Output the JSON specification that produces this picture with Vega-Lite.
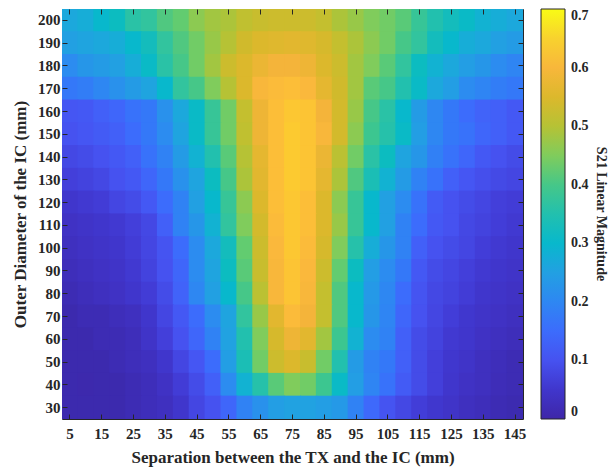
{
"$schema": "https://vega.github.io/schema/vega-lite/v6.json",
"width": 461, "height": 410,
"autosize": "none",
"padding": {"left": 62, "top": 9, "right": 86, "bottom": 54},
"background": "white",
"config": {"view": {"stroke": "#262626", "strokeWidth": 1}, "font": "Liberation Serif"},
"data": {"values": [
{"x":5,"y":200,"v":0.27},{"x":10,"y":200,"v":0.28},{"x":15,"y":200,"v":0.30},{"x":20,"y":200,"v":0.32},{"x":25,"y":200,"v":0.36},{"x":30,"y":200,"v":0.37},{"x":35,"y":200,"v":0.41},{"x":40,"y":200,"v":0.43},{"x":45,"y":200,"v":0.46},{"x":50,"y":200,"v":0.48},{"x":55,"y":200,"v":0.49},{"x":60,"y":200,"v":0.51},{"x":65,"y":200,"v":0.52},{"x":70,"y":200,"v":0.525},{"x":75,"y":200,"v":0.525},{"x":80,"y":200,"v":0.525},{"x":85,"y":200,"v":0.515},{"x":90,"y":200,"v":0.49},{"x":95,"y":200,"v":0.47},{"x":100,"y":200,"v":0.45},{"x":105,"y":200,"v":0.44},{"x":110,"y":200,"v":0.42},{"x":115,"y":200,"v":0.38},{"x":120,"y":200,"v":0.35},{"x":125,"y":200,"v":0.33},{"x":130,"y":200,"v":0.31},{"x":135,"y":200,"v":0.29},{"x":140,"y":200,"v":0.28},{"x":145,"y":200,"v":0.27},
{"x":5,"y":190,"v":0.25},{"x":10,"y":190,"v":0.26},{"x":15,"y":190,"v":0.27},{"x":20,"y":190,"v":0.28},{"x":25,"y":190,"v":0.30},{"x":30,"y":190,"v":0.33},{"x":35,"y":190,"v":0.37},{"x":40,"y":190,"v":0.41},{"x":45,"y":190,"v":0.44},{"x":50,"y":190,"v":0.47},{"x":55,"y":190,"v":0.50},{"x":60,"y":190,"v":0.53},{"x":65,"y":190,"v":0.55},{"x":70,"y":190,"v":0.555},{"x":75,"y":190,"v":0.56},{"x":80,"y":190,"v":0.555},{"x":85,"y":190,"v":0.54},{"x":90,"y":190,"v":0.515},{"x":95,"y":190,"v":0.49},{"x":100,"y":190,"v":0.46},{"x":105,"y":190,"v":0.44},{"x":110,"y":190,"v":0.40},{"x":115,"y":190,"v":0.37},{"x":120,"y":190,"v":0.33},{"x":125,"y":190,"v":0.30},{"x":130,"y":190,"v":0.28},{"x":135,"y":190,"v":0.27},{"x":140,"y":190,"v":0.25},{"x":145,"y":190,"v":0.24},
{"x":5,"y":180,"v":0.21},{"x":10,"y":180,"v":0.23},{"x":15,"y":180,"v":0.24},{"x":20,"y":180,"v":0.25},{"x":25,"y":180,"v":0.28},{"x":30,"y":180,"v":0.31},{"x":35,"y":180,"v":0.36},{"x":40,"y":180,"v":0.40},{"x":45,"y":180,"v":0.44},{"x":50,"y":180,"v":0.48},{"x":55,"y":180,"v":0.525},{"x":60,"y":180,"v":0.55},{"x":65,"y":180,"v":0.575},{"x":70,"y":180,"v":0.59},{"x":75,"y":180,"v":0.59},{"x":80,"y":180,"v":0.58},{"x":85,"y":180,"v":0.55},{"x":90,"y":180,"v":0.525},{"x":95,"y":180,"v":0.48},{"x":100,"y":180,"v":0.45},{"x":105,"y":180,"v":0.42},{"x":110,"y":180,"v":0.37},{"x":115,"y":180,"v":0.32},{"x":120,"y":180,"v":0.29},{"x":125,"y":180,"v":0.27},{"x":130,"y":180,"v":0.245},{"x":135,"y":180,"v":0.23},{"x":140,"y":180,"v":0.21},{"x":145,"y":180,"v":0.195},
{"x":5,"y":170,"v":0.17},{"x":10,"y":170,"v":0.18},{"x":15,"y":170,"v":0.20},{"x":20,"y":170,"v":0.22},{"x":25,"y":170,"v":0.24},{"x":30,"y":170,"v":0.26},{"x":35,"y":170,"v":0.30},{"x":40,"y":170,"v":0.37},{"x":45,"y":170,"v":0.40},{"x":50,"y":170,"v":0.45},{"x":55,"y":170,"v":0.50},{"x":60,"y":170,"v":0.55},{"x":65,"y":170,"v":0.60},{"x":70,"y":170,"v":0.61},{"x":75,"y":170,"v":0.615},{"x":80,"y":170,"v":0.605},{"x":85,"y":170,"v":0.565},{"x":90,"y":170,"v":0.53},{"x":95,"y":170,"v":0.48},{"x":100,"y":170,"v":0.42},{"x":105,"y":170,"v":0.40},{"x":110,"y":170,"v":0.35},{"x":115,"y":170,"v":0.31},{"x":120,"y":170,"v":0.27},{"x":125,"y":170,"v":0.245},{"x":130,"y":170,"v":0.21},{"x":135,"y":170,"v":0.195},{"x":140,"y":170,"v":0.18},{"x":145,"y":170,"v":0.17},
{"x":5,"y":160,"v":0.11},{"x":10,"y":160,"v":0.115},{"x":15,"y":160,"v":0.13},{"x":20,"y":160,"v":0.14},{"x":25,"y":160,"v":0.16},{"x":30,"y":160,"v":0.17},{"x":35,"y":160,"v":0.22},{"x":40,"y":160,"v":0.27},{"x":45,"y":160,"v":0.31},{"x":50,"y":160,"v":0.38},{"x":55,"y":160,"v":0.44},{"x":60,"y":160,"v":0.515},{"x":65,"y":160,"v":0.58},{"x":70,"y":160,"v":0.615},{"x":75,"y":160,"v":0.63},{"x":80,"y":160,"v":0.625},{"x":85,"y":160,"v":0.59},{"x":90,"y":160,"v":0.535},{"x":95,"y":160,"v":0.47},{"x":100,"y":160,"v":0.40},{"x":105,"y":160,"v":0.36},{"x":110,"y":160,"v":0.30},{"x":115,"y":160,"v":0.24},{"x":120,"y":160,"v":0.20},{"x":125,"y":160,"v":0.17},{"x":130,"y":160,"v":0.15},{"x":135,"y":160,"v":0.135},{"x":140,"y":160,"v":0.13},{"x":145,"y":160,"v":0.115},
{"x":5,"y":150,"v":0.10},{"x":10,"y":150,"v":0.11},{"x":15,"y":150,"v":0.12},{"x":20,"y":150,"v":0.13},{"x":25,"y":150,"v":0.15},{"x":30,"y":150,"v":0.17},{"x":35,"y":150,"v":0.21},{"x":40,"y":150,"v":0.26},{"x":45,"y":150,"v":0.31},{"x":50,"y":150,"v":0.38},{"x":55,"y":150,"v":0.44},{"x":60,"y":150,"v":0.51},{"x":65,"y":150,"v":0.58},{"x":70,"y":150,"v":0.615},{"x":75,"y":150,"v":0.635},{"x":80,"y":150,"v":0.625},{"x":85,"y":150,"v":0.60},{"x":90,"y":150,"v":0.535},{"x":95,"y":150,"v":0.46},{"x":100,"y":150,"v":0.39},{"x":105,"y":150,"v":0.355},{"x":110,"y":150,"v":0.31},{"x":115,"y":150,"v":0.245},{"x":120,"y":150,"v":0.20},{"x":125,"y":150,"v":0.17},{"x":130,"y":150,"v":0.16},{"x":135,"y":150,"v":0.14},{"x":140,"y":150,"v":0.13},{"x":145,"y":150,"v":0.115},
{"x":5,"y":140,"v":0.08},{"x":10,"y":140,"v":0.09},{"x":15,"y":140,"v":0.10},{"x":20,"y":140,"v":0.115},{"x":25,"y":140,"v":0.13},{"x":30,"y":140,"v":0.16},{"x":35,"y":140,"v":0.19},{"x":40,"y":140,"v":0.24},{"x":45,"y":140,"v":0.29},{"x":50,"y":140,"v":0.35},{"x":55,"y":140,"v":0.42},{"x":60,"y":140,"v":0.50},{"x":65,"y":140,"v":0.565},{"x":70,"y":140,"v":0.615},{"x":75,"y":140,"v":0.635},{"x":80,"y":140,"v":0.625},{"x":85,"y":140,"v":0.575},{"x":90,"y":140,"v":0.505},{"x":95,"y":140,"v":0.44},{"x":100,"y":140,"v":0.36},{"x":105,"y":140,"v":0.32},{"x":110,"y":140,"v":0.26},{"x":115,"y":140,"v":0.23},{"x":120,"y":140,"v":0.185},{"x":125,"y":140,"v":0.16},{"x":130,"y":140,"v":0.14},{"x":135,"y":140,"v":0.115},{"x":140,"y":140,"v":0.10},{"x":145,"y":140,"v":0.09},
{"x":5,"y":130,"v":0.065},{"x":10,"y":130,"v":0.07},{"x":15,"y":130,"v":0.08},{"x":20,"y":130,"v":0.10},{"x":25,"y":130,"v":0.115},{"x":30,"y":130,"v":0.14},{"x":35,"y":130,"v":0.17},{"x":40,"y":130,"v":0.22},{"x":45,"y":130,"v":0.26},{"x":50,"y":130,"v":0.32},{"x":55,"y":130,"v":0.40},{"x":60,"y":130,"v":0.49},{"x":65,"y":130,"v":0.56},{"x":70,"y":130,"v":0.615},{"x":75,"y":130,"v":0.635},{"x":80,"y":130,"v":0.625},{"x":85,"y":130,"v":0.565},{"x":90,"y":130,"v":0.49},{"x":95,"y":130,"v":0.41},{"x":100,"y":130,"v":0.34},{"x":105,"y":130,"v":0.29},{"x":110,"y":130,"v":0.24},{"x":115,"y":130,"v":0.19},{"x":120,"y":130,"v":0.16},{"x":125,"y":130,"v":0.13},{"x":130,"y":130,"v":0.11},{"x":135,"y":130,"v":0.095},{"x":140,"y":130,"v":0.085},{"x":145,"y":130,"v":0.075},
{"x":5,"y":120,"v":0.05},{"x":10,"y":120,"v":0.055},{"x":15,"y":120,"v":0.06},{"x":20,"y":120,"v":0.075},{"x":25,"y":120,"v":0.09},{"x":30,"y":120,"v":0.115},{"x":35,"y":120,"v":0.15},{"x":40,"y":120,"v":0.19},{"x":45,"y":120,"v":0.25},{"x":50,"y":120,"v":0.30},{"x":55,"y":120,"v":0.38},{"x":60,"y":120,"v":0.46},{"x":65,"y":120,"v":0.55},{"x":70,"y":120,"v":0.615},{"x":75,"y":120,"v":0.63},{"x":80,"y":120,"v":0.615},{"x":85,"y":120,"v":0.55},{"x":90,"y":120,"v":0.46},{"x":95,"y":120,"v":0.38},{"x":100,"y":120,"v":0.30},{"x":105,"y":120,"v":0.25},{"x":110,"y":120,"v":0.21},{"x":115,"y":120,"v":0.16},{"x":120,"y":120,"v":0.12},{"x":125,"y":120,"v":0.10},{"x":130,"y":120,"v":0.09},{"x":135,"y":120,"v":0.075},{"x":140,"y":120,"v":0.065},{"x":145,"y":120,"v":0.06},
{"x":5,"y":110,"v":0.04},{"x":10,"y":110,"v":0.045},{"x":15,"y":110,"v":0.05},{"x":20,"y":110,"v":0.055},{"x":25,"y":110,"v":0.065},{"x":30,"y":110,"v":0.08},{"x":35,"y":110,"v":0.13},{"x":40,"y":110,"v":0.19},{"x":45,"y":110,"v":0.23},{"x":50,"y":110,"v":0.29},{"x":55,"y":110,"v":0.37},{"x":60,"y":110,"v":0.45},{"x":65,"y":110,"v":0.535},{"x":70,"y":110,"v":0.61},{"x":75,"y":110,"v":0.63},{"x":80,"y":110,"v":0.615},{"x":85,"y":110,"v":0.55},{"x":90,"y":110,"v":0.47},{"x":95,"y":110,"v":0.38},{"x":100,"y":110,"v":0.30},{"x":105,"y":110,"v":0.25},{"x":110,"y":110,"v":0.19},{"x":115,"y":110,"v":0.15},{"x":120,"y":110,"v":0.115},{"x":125,"y":110,"v":0.10},{"x":130,"y":110,"v":0.08},{"x":135,"y":110,"v":0.07},{"x":140,"y":110,"v":0.062},{"x":145,"y":110,"v":0.055},
{"x":5,"y":100,"v":0.035},{"x":10,"y":100,"v":0.04},{"x":15,"y":100,"v":0.045},{"x":20,"y":100,"v":0.05},{"x":25,"y":100,"v":0.06},{"x":30,"y":100,"v":0.075},{"x":35,"y":100,"v":0.105},{"x":40,"y":100,"v":0.15},{"x":45,"y":100,"v":0.21},{"x":50,"y":100,"v":0.27},{"x":55,"y":100,"v":0.33},{"x":60,"y":100,"v":0.43},{"x":65,"y":100,"v":0.525},{"x":70,"y":100,"v":0.605},{"x":75,"y":100,"v":0.63},{"x":80,"y":100,"v":0.61},{"x":85,"y":100,"v":0.54},{"x":90,"y":100,"v":0.45},{"x":95,"y":100,"v":0.355},{"x":100,"y":100,"v":0.28},{"x":105,"y":100,"v":0.23},{"x":110,"y":100,"v":0.19},{"x":115,"y":100,"v":0.13},{"x":120,"y":100,"v":0.10},{"x":125,"y":100,"v":0.09},{"x":130,"y":100,"v":0.075},{"x":135,"y":100,"v":0.062},{"x":140,"y":100,"v":0.055},{"x":145,"y":100,"v":0.05},
{"x":5,"y":90,"v":0.03},{"x":10,"y":90,"v":0.035},{"x":15,"y":90,"v":0.04},{"x":20,"y":90,"v":0.045},{"x":25,"y":90,"v":0.055},{"x":30,"y":90,"v":0.07},{"x":35,"y":90,"v":0.10},{"x":40,"y":90,"v":0.14},{"x":45,"y":90,"v":0.21},{"x":50,"y":90,"v":0.26},{"x":55,"y":90,"v":0.32},{"x":60,"y":90,"v":0.42},{"x":65,"y":90,"v":0.52},{"x":70,"y":90,"v":0.60},{"x":75,"y":90,"v":0.625},{"x":80,"y":90,"v":0.605},{"x":85,"y":90,"v":0.525},{"x":90,"y":90,"v":0.43},{"x":95,"y":90,"v":0.32},{"x":100,"y":90,"v":0.245},{"x":105,"y":90,"v":0.21},{"x":110,"y":90,"v":0.17},{"x":115,"y":90,"v":0.115},{"x":120,"y":90,"v":0.09},{"x":125,"y":90,"v":0.075},{"x":130,"y":90,"v":0.065},{"x":135,"y":90,"v":0.055},{"x":140,"y":90,"v":0.05},{"x":145,"y":90,"v":0.045},
{"x":5,"y":80,"v":0.025},{"x":10,"y":80,"v":0.03},{"x":15,"y":80,"v":0.035},{"x":20,"y":80,"v":0.04},{"x":25,"y":80,"v":0.05},{"x":30,"y":80,"v":0.06},{"x":35,"y":80,"v":0.09},{"x":40,"y":80,"v":0.135},{"x":45,"y":80,"v":0.20},{"x":50,"y":80,"v":0.25},{"x":55,"y":80,"v":0.30},{"x":60,"y":80,"v":0.40},{"x":65,"y":80,"v":0.505},{"x":70,"y":80,"v":0.60},{"x":75,"y":80,"v":0.625},{"x":80,"y":80,"v":0.60},{"x":85,"y":80,"v":0.515},{"x":90,"y":80,"v":0.41},{"x":95,"y":80,"v":0.30},{"x":100,"y":80,"v":0.235},{"x":105,"y":80,"v":0.20},{"x":110,"y":80,"v":0.15},{"x":115,"y":80,"v":0.105},{"x":120,"y":80,"v":0.08},{"x":125,"y":80,"v":0.07},{"x":130,"y":80,"v":0.06},{"x":135,"y":80,"v":0.05},{"x":140,"y":80,"v":0.045},{"x":145,"y":80,"v":0.04},
{"x":5,"y":70,"v":0.02},{"x":10,"y":70,"v":0.025},{"x":15,"y":70,"v":0.025},{"x":20,"y":70,"v":0.03},{"x":25,"y":70,"v":0.035},{"x":30,"y":70,"v":0.05},{"x":35,"y":70,"v":0.075},{"x":40,"y":70,"v":0.115},{"x":45,"y":70,"v":0.15},{"x":50,"y":70,"v":0.21},{"x":55,"y":70,"v":0.26},{"x":60,"y":70,"v":0.37},{"x":65,"y":70,"v":0.47},{"x":70,"y":70,"v":0.56},{"x":75,"y":70,"v":0.61},{"x":80,"y":70,"v":0.59},{"x":85,"y":70,"v":0.515},{"x":90,"y":70,"v":0.41},{"x":95,"y":70,"v":0.30},{"x":100,"y":70,"v":0.23},{"x":105,"y":70,"v":0.195},{"x":110,"y":70,"v":0.14},{"x":115,"y":70,"v":0.10},{"x":120,"y":70,"v":0.075},{"x":125,"y":70,"v":0.062},{"x":130,"y":70,"v":0.052},{"x":135,"y":70,"v":0.045},{"x":140,"y":70,"v":0.04},{"x":145,"y":70,"v":0.035},
{"x":5,"y":60,"v":0.02},{"x":10,"y":60,"v":0.02},{"x":15,"y":60,"v":0.025},{"x":20,"y":60,"v":0.025},{"x":25,"y":60,"v":0.03},{"x":30,"y":60,"v":0.045},{"x":35,"y":60,"v":0.065},{"x":40,"y":60,"v":0.10},{"x":45,"y":60,"v":0.14},{"x":50,"y":60,"v":0.19},{"x":55,"y":60,"v":0.255},{"x":60,"y":60,"v":0.35},{"x":65,"y":60,"v":0.45},{"x":70,"y":60,"v":0.54},{"x":75,"y":60,"v":0.58},{"x":80,"y":60,"v":0.56},{"x":85,"y":60,"v":0.48},{"x":90,"y":60,"v":0.39},{"x":95,"y":60,"v":0.29},{"x":100,"y":60,"v":0.21},{"x":105,"y":60,"v":0.19},{"x":110,"y":60,"v":0.13},{"x":115,"y":60,"v":0.09},{"x":120,"y":60,"v":0.07},{"x":125,"y":60,"v":0.055},{"x":130,"y":60,"v":0.05},{"x":135,"y":60,"v":0.04},{"x":140,"y":60,"v":0.035},{"x":145,"y":60,"v":0.03},
{"x":5,"y":50,"v":0.02},{"x":10,"y":50,"v":0.02},{"x":15,"y":50,"v":0.02},{"x":20,"y":50,"v":0.025},{"x":25,"y":50,"v":0.03},{"x":30,"y":50,"v":0.035},{"x":35,"y":50,"v":0.05},{"x":40,"y":50,"v":0.075},{"x":45,"y":50,"v":0.11},{"x":50,"y":50,"v":0.15},{"x":55,"y":50,"v":0.245},{"x":60,"y":50,"v":0.34},{"x":65,"y":50,"v":0.44},{"x":70,"y":50,"v":0.525},{"x":75,"y":50,"v":0.55},{"x":80,"y":50,"v":0.52},{"x":85,"y":50,"v":0.44},{"x":90,"y":50,"v":0.35},{"x":95,"y":50,"v":0.24},{"x":100,"y":50,"v":0.19},{"x":105,"y":50,"v":0.17},{"x":110,"y":50,"v":0.13},{"x":115,"y":50,"v":0.09},{"x":120,"y":50,"v":0.065},{"x":125,"y":50,"v":0.052},{"x":130,"y":50,"v":0.045},{"x":135,"y":50,"v":0.035},{"x":140,"y":50,"v":0.03},{"x":145,"y":50,"v":0.025},
{"x":5,"y":40,"v":0.02},{"x":10,"y":40,"v":0.015},{"x":15,"y":40,"v":0.02},{"x":20,"y":40,"v":0.02},{"x":25,"y":40,"v":0.025},{"x":30,"y":40,"v":0.03},{"x":35,"y":40,"v":0.04},{"x":40,"y":40,"v":0.06},{"x":45,"y":40,"v":0.09},{"x":50,"y":40,"v":0.13},{"x":55,"y":40,"v":0.21},{"x":60,"y":40,"v":0.29},{"x":65,"y":40,"v":0.355},{"x":70,"y":40,"v":0.42},{"x":75,"y":40,"v":0.45},{"x":80,"y":40,"v":0.44},{"x":85,"y":40,"v":0.39},{"x":90,"y":40,"v":0.31},{"x":95,"y":40,"v":0.245},{"x":100,"y":40,"v":0.195},{"x":105,"y":40,"v":0.16},{"x":110,"y":40,"v":0.12},{"x":115,"y":40,"v":0.09},{"x":120,"y":40,"v":0.065},{"x":125,"y":40,"v":0.05},{"x":130,"y":40,"v":0.04},{"x":135,"y":40,"v":0.035},{"x":140,"y":40,"v":0.028},{"x":145,"y":40,"v":0.025},
{"x":5,"y":30,"v":0.02},{"x":10,"y":30,"v":0.02},{"x":15,"y":30,"v":0.02},{"x":20,"y":30,"v":0.02},{"x":25,"y":30,"v":0.025},{"x":30,"y":30,"v":0.03},{"x":35,"y":30,"v":0.035},{"x":40,"y":30,"v":0.05},{"x":45,"y":30,"v":0.075},{"x":50,"y":30,"v":0.10},{"x":55,"y":30,"v":0.14},{"x":60,"y":30,"v":0.19},{"x":65,"y":30,"v":0.22},{"x":70,"y":30,"v":0.245},{"x":75,"y":30,"v":0.255},{"x":80,"y":30,"v":0.255},{"x":85,"y":30,"v":0.245},{"x":90,"y":30,"v":0.235},{"x":95,"y":30,"v":0.19},{"x":100,"y":30,"v":0.145},{"x":105,"y":30,"v":0.105},{"x":110,"y":30,"v":0.08},{"x":115,"y":30,"v":0.062},{"x":120,"y":30,"v":0.052},{"x":125,"y":30,"v":0.045},{"x":130,"y":30,"v":0.035},{"x":135,"y":30,"v":0.03},{"x":140,"y":30,"v":0.025},{"x":145,"y":30,"v":0.022}
]},
"layer": [
{
"mark": {"type": "rect", "width": {"band": 1.06}, "height": {"band": 1.05}, "clip": true},
"encoding": {
"x": {"field": "x", "type": "ordinal", "scale": {"paddingInner": 0, "paddingOuter": 0},
 "axis": {"orient": "bottom", "values": [5,15,25,35,45,55,65,75,85,95,105,115,125,135,145], "labelAngle": 0, "domain": false, "grid": false,
  "tickSize": -5, "tickColor": "#262626", "tickWidth": 1,
  "labelFont": "Liberation Serif", "labelFontWeight": "bold", "labelFontSize": 15, "labelColor": "#262626", "labelPadding": 12,
  "title": "Separation between the TX and the IC (mm)", "titleFont": "Liberation Serif", "titleFontWeight": "bold", "titleFontSize": 17, "titleColor": "#262626", "titlePadding": 8}},
"y": {"field": "y", "type": "ordinal", "sort": "descending", "scale": {"paddingInner": 0, "paddingOuter": 0},
 "axis": {"orient": "left", "values": [30,40,50,60,70,80,90,100,110,120,130,140,150,160,170,180,190,200], "domain": false, "grid": false,
  "tickSize": -5, "tickColor": "#262626", "tickWidth": 1,
  "labelFont": "Liberation Serif", "labelFontWeight": "bold", "labelFontSize": 15, "labelColor": "#262626", "labelPadding": 7,
  "title": "Outer Diameter of the IC (mm)", "titleFont": "Liberation Serif", "titleFontWeight": "bold", "titleFontSize": 17, "titleColor": "#262626", "titlePadding": 8}},
"color": {"field": "v", "type": "quantitative",
 "scale": {"domain": [0,0.02,0.03,0.04,0.05,0.06,0.075,0.09,0.10,0.115,0.13,0.15,0.17,0.19,0.21,0.23,0.25,0.27,0.29,0.30,0.32,0.33,0.35,0.37,0.39,0.41,0.43,0.45,0.47,0.49,0.51,0.53,0.55,0.57,0.59,0.605,0.615,0.625,0.635,0.66,0.70],
  "range": ["#3e26a8","#3c2aae","#3e2eba","#4032c4","#4036cc","#423cd6","#4446e2","#444ce8","#4652f0","#4458f4","#4260f8","#3c6cfc","#3478f8","#3082f4","#2c8cf0","#2696e8","#22a0e2","#1ca8dc","#12b2d2","#08b8cc","#0cbcc0","#14bcbc","#22c0ae","#32c49e","#3cc690","#50c880","#62cc70","#80cc5c","#98c848","#acc43a","#c0c030","#d0ba2c","#dcb82c","#e8b632","#f4b43a","#fab83c","#fcbe38","#fcc434","#fcca30","#f6d82c","#f9fb15"],
  "interpolate": "rgb"},
 "legend": {"type": "gradient", "orient": "right", "offset": 17, "direction": "vertical", "gradientLength": 410, "gradientThickness": 24,
  "gradientStrokeColor": "#262626", "gradientStrokeWidth": 1,
  "values": [0,0.1,0.2,0.3,0.4,0.5,0.6,0.7], "format": "~g",
  "labelFont": "Liberation Serif", "labelFontWeight": "bold", "labelFontSize": 14, "labelColor": "#262626", "labelOffset": 6,
  "title": "S21 Linear Magnitude", "titleOrient": "right", "titleAngle": 270, "titleAnchor": "middle", "titleBaseline": "bottom",
  "titleFont": "Liberation Serif", "titleFontWeight": "bold", "titleFontSize": 14, "titleColor": "#262626", "titlePadding": 5}}
}
},
{
"mark": {"type": "rect", "opacity": 0},
"encoding": {
"x": {"field": "x", "type": "ordinal", "axis": {"orient": "top", "values": [5,15,25,35,45,55,65,75,85,95,105,115,125,135,145], "labels": false, "title": null, "domain": false, "grid": false, "tickSize": -5, "tickColor": "#262626", "tickWidth": 1}},
"y": {"field": "y", "type": "ordinal", "sort": "descending", "axis": {"orient": "right", "values": [30,40,50,60,70,80,90,100,110,120,130,140,150,160,170,180,190,200], "labels": false, "title": null, "domain": false, "grid": false, "tickSize": -5, "tickColor": "#262626", "tickWidth": 1}}
}
}
],
"resolve": {"axis": {"x": "independent", "y": "independent"}}
}
